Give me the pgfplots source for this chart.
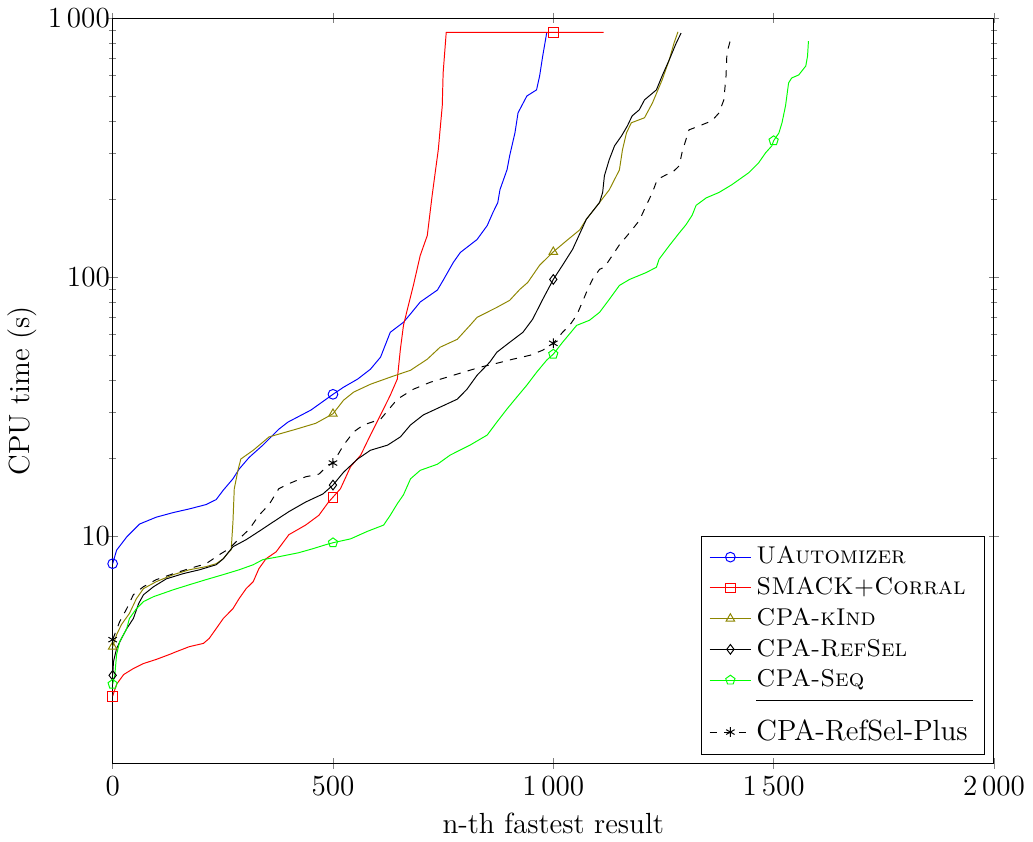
\documentclass[border=0pt]{standalone}
\usepackage{pgfplots}
\pgfplotsset{compat=1.18}
\usetikzlibrary{plotmarks}

\begin{document}
\begin{tikzpicture}
\begin{axis}[
  scale only axis,
  width=363pt, height=307pt,
  ymode=log,
  xmin=0, xmax=2000,
  ymin=1.32, ymax=1000,
  ytick={10,100,1000},
  yticklabels={10,100,{1\,000}},
  /pgf/number format/1000 sep={\,},
  tick align=center,
  xtick={0,500,1000,1500,2000},
  xlabel={n-th fastest result},
  ylabel={CPU time (s)},
  yticklabel shift=-4.5pt,
  ylabel shift=-2.5pt,
  label style={font=\large},
  tick label style={font=\large},
  every axis plot/.append style={thin},
  legend image post style={mark indices={2}},
  legend cell align=left,
  legend style={at={(0.99,0.012)}, anchor=south east, font=\normalsize},
]

% UAutomizer
\addplot[blue, mark=o, mark indices={1,18}] table {
x y
0 7.8
9 8.8
32 9.9
61 11.1
99 11.8
138 12.3
174 12.7
212 13.2
235 13.8
251 15.0
273 16.6
287 18.1
310 20.1
341 22.4
377 25.8
398 27.5
450 30.6
500 35.2
524 37.5
556 40.3
585 44.0
608 49.0
630 61.1
660 66.8
676 72
698 80
737 89
750 97
773 113.7
789 124.3
827 139.5
850 157.9
863 177.3
874 193.7
879 217.4
895 259.5
901 293.9
913 360.5
920 430.5
940 500
962 528
969 598
976 714
985 876
};
\addlegendentry{\textsc{UAutomizer}}

% SMACK+Corral
\addplot[red, mark=square, mark indices={1,25,45}] table {
x y
0 2.40
9 2.67
25 2.91
47 3.07
70 3.21
99 3.33
129 3.48
145 3.57
174 3.73
206 3.84
219 4.01
235 4.38
251 4.79
273 5.23
287 5.72
303 6.25
319 6.65
332 7.47
348 8.15
371 8.67
400 10.1
438 11.0
468 12.0
490 13.5
500 14.1
517 15.2
540 18.5
563 20.5
585 24.5
608 29.3
630 34.9
646 40.3
653 52.6
660 65.0
671 77.6
682 92
698 121
714 144.5
725 206
732 253
739 310
748 458
750 614
757 880
1000 880
1114 880
};
\addlegendentry{\textsc{SMACK+Corral}}

% CPA-kInd
\addplot[olive, mark=triangle, mark indices={1,25,41}] table {
x y
0 3.73
9 4.15
20 4.54
38 5.01
54 5.72
70 6.25
99 6.65
138 7.08
174 7.39
212 7.60
235 7.80
251 8.15
264 8.67
269 8.83
273 11.3
276 15.2
285 18.1
291 19.8
319 21.4
341 23.0
355 24.1
377 24.7
416 25.8
461 27.2
500 29.6
524 33.4
547 35.9
585 38.5
630 41.0
676 43.6
714 48.1
743 53.5
782 57.4
811 65.0
827 69.8
872 76.3
901 81.2
924 89.5
942 95.2
969 111
1000 125
1030 138
1060 152
1075 167
1105 194
1127 217
1150 259
1157 310
1166 360
1177 394
1207 412
1225 470
1247 577
1263 689
1274 801
1283 885
};
\addlegendentry{\textsc{CPA-kInd}}

% CPA-RefSel
\addplot[black, mark=diamond, mark indices={1,22,40}] table {
x y
0 2.89
2 3.27
9 3.67
20 4.01
32 4.38
47 4.79
59 5.47
70 5.92
93 6.36
122 6.82
160 7.14
197 7.39
235 7.73
251 8.15
273 9.07
303 9.66
332 10.4
364 11.3
400 12.4
438 13.5
477 14.5
500 15.7
524 17.6
556 19.8
585 21.4
624 22.4
653 24.1
676 26.8
705 29.3
743 31.4
782 33.7
804 36.8
827 41.7
856 46.9
872 51.2
901 55.9
931 61.1
953 68.6
976 81.9
1000 97.8
1021 111
1044 128
1064 152
1075 167
1105 194
1112 212
1116 246
1127 284
1139 321
1155 351
1168 383
1179 419
1195 442
1207 483
1234 528
1247 598
1263 689
1279 801
1290 875
};
\addlegendentry{\textsc{CPA-RefSel}}

% CPA-Seq
\addplot[green, mark=pentagon, mark indices={1,21,40,63}] table {
x y
0 2.67
5 2.91
9 3.48
16 3.90
32 4.38
38 4.79
54 5.23
70 5.57
93 5.82
138 6.19
174 6.47
212 6.77
251 7.08
287 7.39
319 7.73
341 8.09
377 8.30
422 8.60
454 8.91
483 9.23
500 9.40
540 9.73
578 10.4
615 11.0
630 12.0
646 13.3
660 14.4
676 16.6
698 17.9
737 18.9
766 20.5
811 22.4
850 24.5
872 27.5
895 30.9
917 34.3
940 38.2
962 42.8
985 47.7
1000 50.3
1021 55.9
1053 65.0
1082 68.0
1105 73.0
1127 81.9
1150 92.7
1173 97.8
1211 104
1234 109
1240 117
1263 132
1286 148
1301 159
1315 173
1324 189
1347 202
1376 212
1405 227
1444 253
1466 276
1482 302
1496 321
1500 336
1512 360
1519 394
1527 458
1534 562
1541 587
1557 603
1573 653
1577 714
1579 815
};
\addlegendentry{\textsc{CPA-Seq}}

% separator between the two groups of the legend
\addlegendimage{empty legend}
\addlegendentry{\rule[0.5ex]{89pt}{0.4pt}}

% CPA-RefSel-Plus
\addplot[black, dashed, mark=asterisk, mark options={solid}, mark indices={1,21,36}] table {
x y
0 3.97
16 4.66
32 5.23
47 5.92
70 6.36
99 6.77
138 7.14
174 7.47
212 7.80
242 8.45
264 8.91
287 9.73
310 10.6
332 12.0
355 13.2
377 15.2
400 15.9
438 16.9
468 17.3
490 18.8
500 19.1
524 22.4
547 25.2
569 26.8
608 28.2
646 33.7
682 36.8
721 39.2
759 41.0
795 42.8
834 44.8
872 46.4
908 48.1
947 49.8
976 52.1
1000 55.4
1021 61.1
1037 65.0
1053 71.1
1066 80
1078 89.5
1089 97.8
1105 107
1116 109
1134 121
1150 133
1173 148
1195 165
1211 189
1225 212
1236 238
1256 248
1270 253
1286 269
1292 302
1301 339
1308 370
1331 383
1360 401
1376 430
1387 483
1392 598
1394 733
1405 860
};
\addlegendentry{\large CPA-RefSel-Plus}

\end{axis}
\end{tikzpicture}
\end{document}
